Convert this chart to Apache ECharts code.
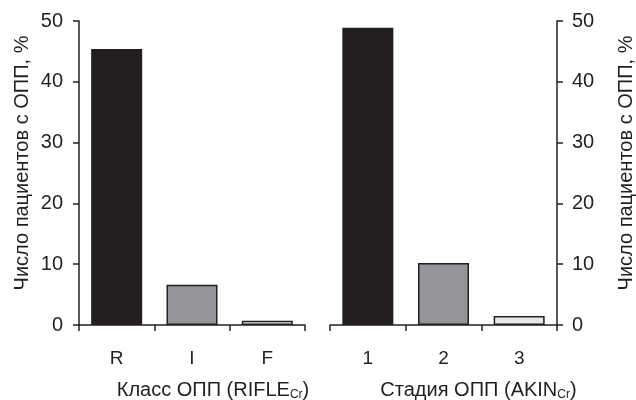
<!DOCTYPE html>
<html><head><meta charset="utf-8">
<script src="https://cdn.jsdelivr.net/npm/echarts@6/dist/echarts.min.js"></script>
<style>html,body{margin:0;padding:0;background:#fff}#c{width:636px;height:400px}</style>
</head><body><div id="c"></div>
<script>
const rifleCats = ['R', 'I', 'F'];
const rifleVals = [45.4, 6.6, 0.7];
const akinCats = ['1', '2', '3'];
const akinVals = [48.9, 10.2, 1.5];
const yTicks = [0, 10, 20, 30, 40, 50];
const barColors = ['#231f20', '#939598', '#e6e7e8'];
const yName = 'Число пациентов с ОПП, %';

const ink = '#231f20';
const font = 'Arial, "Liberation Sans", sans-serif';
const chart = echarts.init(document.getElementById('c'));
const axisLine = {show: true, lineStyle: {color: ink, width: 1.5}};
const axisTick = {show: true, length: 6, lineStyle: {color: ink, width: 1.5}};
const sub = {fontSize: 12, fontFamily: font, color: ink, padding: [10, 0, 0, 0]};

function xAx(idx, cats, name, pad) {
  return {
    type: 'category', gridIndex: idx, data: cats,
    axisLine, axisTick,
    axisLabel: {fontSize: 19, fontFamily: font, color: ink, margin: 24},
    name, nameLocation: 'middle', nameGap: 54,
    nameTextStyle: {fontSize: 20, fontFamily: font, color: ink, padding: pad, rich: {s: sub}}
  };
}
function yAx(idx, pos) {
  return {
    type: 'value', gridIndex: idx, position: pos, min: 0, max: 50, interval: 10,
    axisLine, axisTick, splitLine: {show: false},
    axisLabel: {fontSize: 20, fontFamily: font, color: ink, margin: pos === 'left' ? 16 : 15,
      formatter: v => yTicks.includes(v) ? String(v) : ''},
    name: yName, nameLocation: 'middle', nameRotate: 90, nameGap: pos === 'left' ? 47 : 59,
    nameTextStyle: {fontSize: 20, fontFamily: font, color: ink, padding: [0, 0, 0, 20]}
  };
}
function bars(idx, vals) {
  return {
    type: 'bar', xAxisIndex: idx, yAxisIndex: idx, barWidth: 51,
    data: vals.map((v, i) => ({value: v, itemStyle: {color: barColors[i]}})),
    itemStyle: {borderColor: ink, borderWidth: 1.5}
  };
}
chart.setOption({
  animation: false,
  grid: [
    {left: 79, right: 331, top: 21, bottom: 75, containLabel: false, outerBoundsMode: 'none'},
    {left: 330, right: 79, top: 21, bottom: 75, containLabel: false, outerBoundsMode: 'none'}
  ],
  xAxis: [
    xAx(0, rifleCats, 'Класс ОПП (RIFLE{s|Cr})', [0, 0, 0, 42]),
    xAx(1, akinCats, 'Стадия ОПП (AKIN{s|Cr})', [0, 0, 0, 70])
  ],
  yAxis: [yAx(0, 'left'), yAx(1, 'right')],
  series: [bars(0, rifleVals), bars(1, akinVals)]
});
</script></body></html>
